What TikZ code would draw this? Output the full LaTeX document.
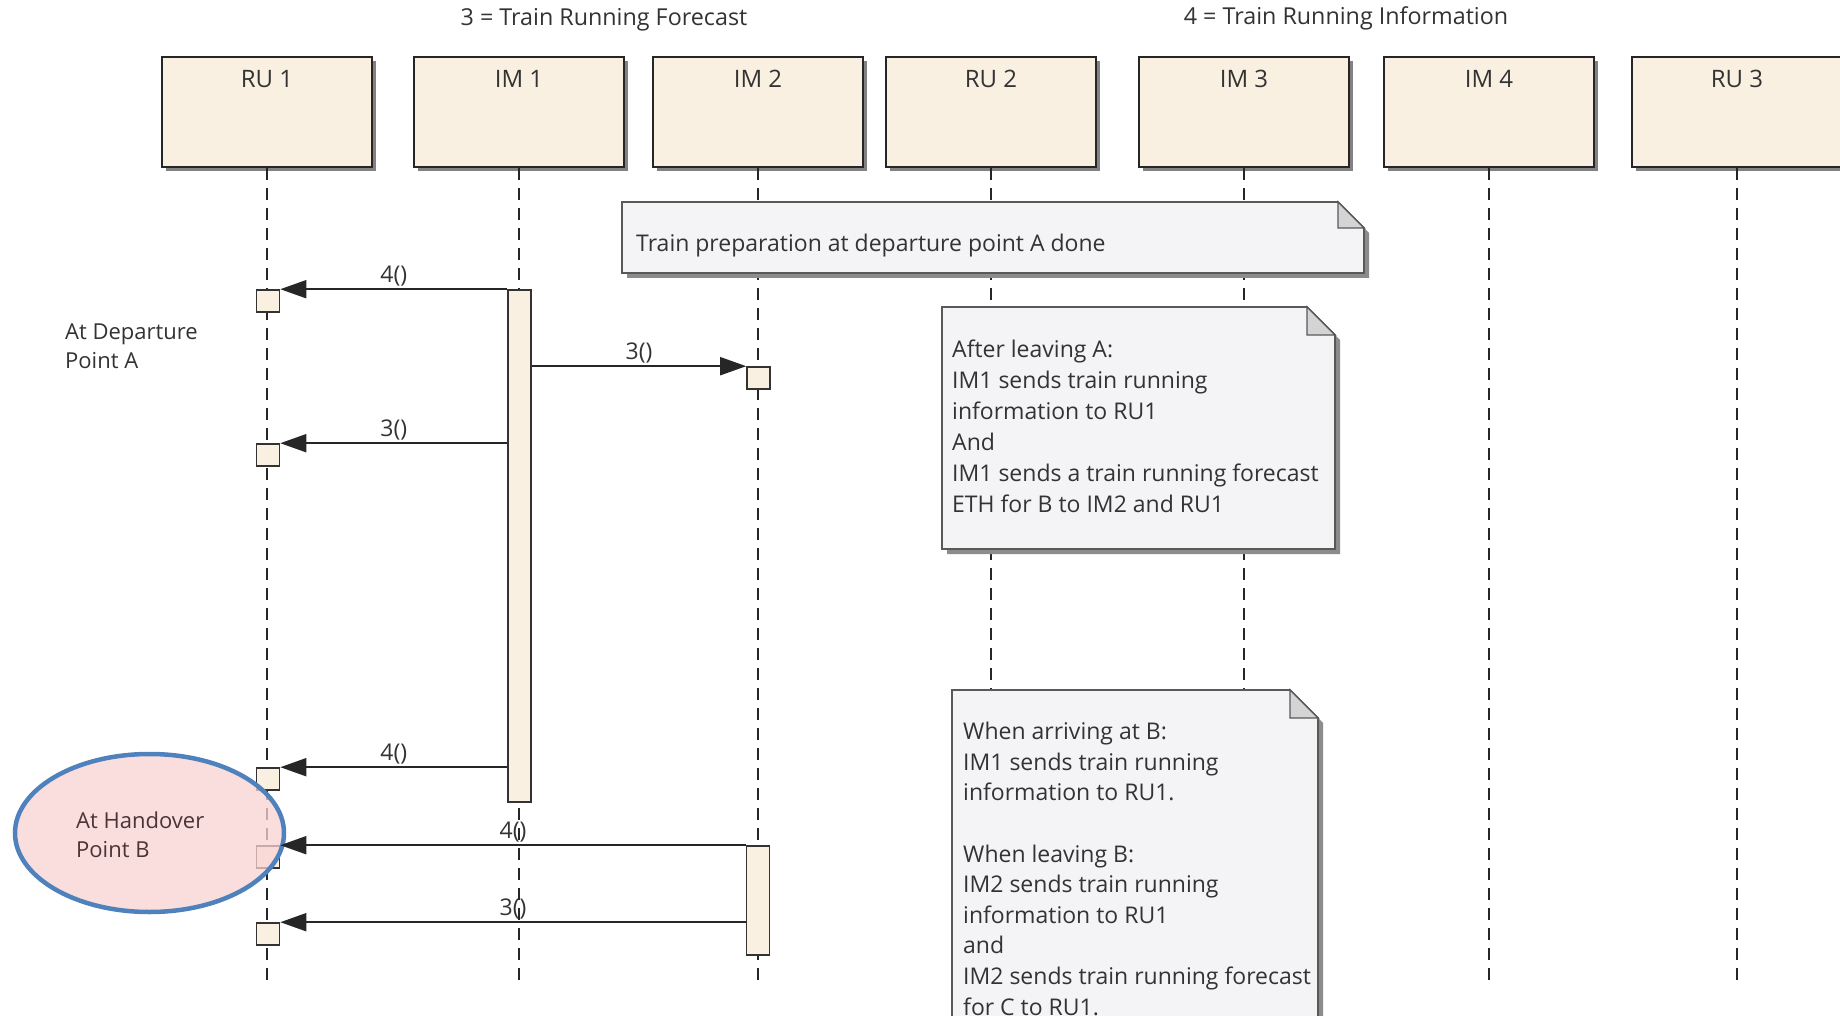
\documentclass[tikz,border=0pt]{standalone}
\usepackage{fontspec}
\setmainfont{Open Sans}
\usetikzlibrary{arrows.meta,shadows,calc,shapes.geometric}
\definecolor{headfill}{HTML}{FAF0E2}
\definecolor{notefill}{HTML}{F4F3F6}
\definecolor{foldfill}{HTML}{D4D4D4}
\definecolor{inkc}{HTML}{333333}
\definecolor{ellfill}{HTML}{F9D3D3}
\definecolor{ellline}{HTML}{4F81BD}
\definecolor{elltext}{HTML}{4A3434}
\begin{document}
\begin{tikzpicture}[x=1pt,y=-1pt,
  every node/.style={text=inkc},
  head/.style={draw=black!85,line width=2.2pt,fill=headfill,minimum width=210pt,minimum height=110pt,inner sep=0pt,
     drop shadow={shadow xshift=4pt,shadow yshift=-4pt,fill=black!75,opacity=.65}},
  hlabel/.style={font=\fontsize{24}{28}\selectfont,text=inkc,inner sep=0pt,anchor=north,yshift=-14pt},
  life/.style={draw=black!85,line width=2pt,dash pattern=on 12pt off 8pt},
  act/.style={draw=black!80,line width=1.6pt,fill=headfill,minimum width=23pt,inner sep=0pt},
  sbox/.style={act,minimum height=22pt},
  msg/.style={draw=black!85,line width=1.8pt,-{Triangle[length=26pt,width=18pt]}},
  mlabel/.style={font=\fontsize{23}{27}\selectfont,inner sep=2pt,above},
  notepath/.style={draw=black!65,line width=1.6pt,fill=notefill},
  fold/.style={draw=black!65,line width=1.4pt,fill=foldfill},
  shade/.style={fill=black!45},
  ntext/.style={font=\fontsize{23}{31}\selectfont,align=left,inner sep=0pt,anchor=base west},
]
\useasboundingbox[fill=white] (0,0) rectangle (1840,1016);

% titles
\node[font=\fontsize{23.3}{27}\selectfont] (t3) at (604,20) {3 = Train Running Forecast};
\node[font=\fontsize{23.3}{27}\selectfont] (t4) at (1346,18) {4 = Train Running Information};

% lifeline heads
\node[head,label={[hlabel]north:RU 1}] (ru1) at (267,112) {};
\node[head,label={[hlabel]north:IM 1}] (im1) at (519,112) {};
\node[head,label={[hlabel]north:IM 2}] (im2) at (758,112) {};
\node[head,label={[hlabel]north:RU 2}] (ru2) at (991,112) {};
\node[head,label={[hlabel]north:IM 3}] (im3) at (1244,112) {};
\node[head,label={[hlabel]north:IM 4}] (im4) at (1489,112) {};
\node[head,label={[hlabel]north:RU 3}] (ru3) at (1737,112) {};

\coordinate (ru1e) at (267,980);
\coordinate (im1e) at (519,980);
\coordinate (im2e) at (758,980);
\coordinate (ru2e) at (991,980);
\coordinate (im3e) at (1244,980);
\coordinate (im4e) at (1489,980);
\coordinate (ru3e) at (1737,980);
\foreach \h in {ru1,im1,im2,ru2,im3,im4,ru3}
  \draw[life] (\h.south) -- (\h e);

% activations
\node[act,minimum height=512pt] (a1) at (519.5,546) {};
\node[act,minimum height=109pt] (a2) at (758,900.5) {};
\node[sbox] (r1) at (268,301) {};
\node[sbox] (i2) at (758.5,378) {};
\node[sbox] (r2) at (268,455) {};
\node[sbox] (r3) at (268,779) {};
\node[sbox] (r4) at (268,857) {};
\node[sbox] (r5) at (268,934) {};

% notes
\fill[shade] (627,207) -- (1343,207) -- (1369,233) -- (1369,278) -- (627,278) -- cycle;
\filldraw[notepath] (622,202) -- (1338,202) -- (1364,228) -- (1364,273) -- (622,273) -- cycle;
\filldraw[fold] (1338,202) -- (1338,228) -- (1364,228) -- cycle;

\fill[shade] (947,312) -- (1312,312) -- (1340,340) -- (1340,554) -- (947,554) -- cycle;
\filldraw[notepath] (942,307) -- (1307,307) -- (1335,335) -- (1335,549) -- (942,549) -- cycle;
\filldraw[fold] (1307,307) -- (1307,335) -- (1335,335) -- cycle;

\fill[shade] (957,695) -- (1295,695) -- (1323,723) -- (1323,1045) -- (957,1045) -- cycle;
\filldraw[notepath] (952,690) -- (1290,690) -- (1318,718) -- (1318,1040) -- (952,1040) -- cycle;
\filldraw[fold] (1290,690) -- (1290,718) -- (1318,718) -- cycle;

\node[ntext] (n1t) at (636,252) {Train preparation at departure point A done};
\node[ntext] (n2t) at (952,512) {After leaving A:\\IM1 sends train running\\information to RU1\\And\\IM1 sends a train running forecast\\ETH for B to IM2 and RU1};
\node[ntext,font=\fontsize{23}{30.6}\selectfont] (n3t) at (963,1015) {When arriving at B:\\IM1 sends train running\\information to RU1.\\\mbox{}\\When leaving B:\\IM2 sends train running\\information to RU1\\and\\IM2 sends train running forecast\\for C to RU1.};

% handover ellipse
\node[ellipse,draw=ellline,line width=4.5pt,fill=ellfill,fill opacity=.75,minimum width=269pt,minimum height=158pt,inner sep=0pt] (hb) at (149.5,833) {};

% messages
\draw[msg] (r1.north east -| a1.west) -- node[mlabel]{4()} (r1.north east);
\draw[msg] (i2.north west -| a1.east) -- node[mlabel]{3()} (i2.north west);
\draw[msg] (r2.north east -| a1.west) -- node[mlabel]{3()} (r2.north east);
\draw[msg] (r3.north east -| a1.west) -- node[mlabel]{4()} (r3.north east);
\draw[msg] (r4.north east -| a2.west) -- node[mlabel]{4()} (r4.north east);
\draw[msg] (r5.north east -| a2.west) -- node[mlabel]{3()} (r5.north east);

% side texts
\node[ntext,font=\fontsize{22}{29}\selectfont] (depA) at (65,369) {At Departure\\Point A};
\node[ntext,font=\fontsize{22}{29}\selectfont,text=elltext] (hbt) at (76,857) {At Handover\\Point B};
\end{tikzpicture}
\end{document}
